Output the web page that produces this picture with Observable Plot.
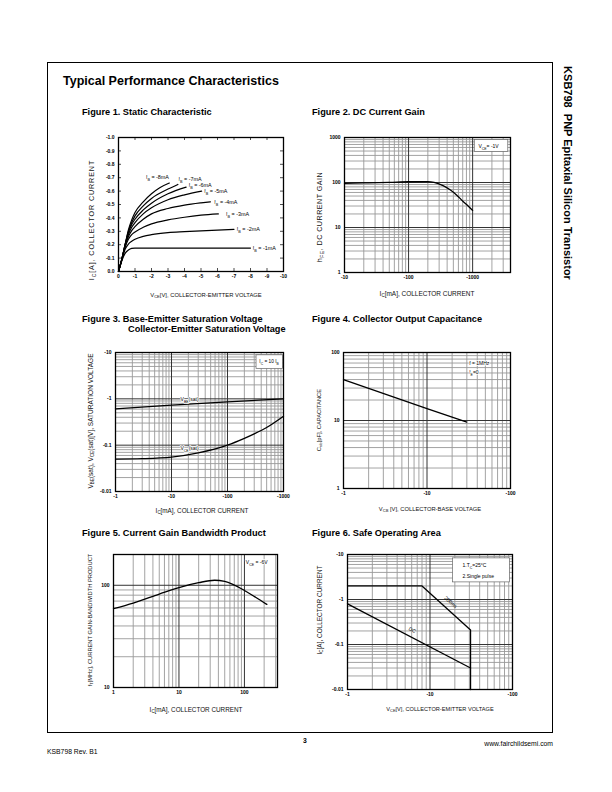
<!DOCTYPE html>
<html><head><meta charset="utf-8">
<script src="https://cdn.jsdelivr.net/npm/d3@7"></script>
<script src="https://cdn.jsdelivr.net/npm/@observablehq/plot@0.6"></script>
<style>
html,body{margin:0;padding:0;background:#fff;}
#page{position:relative;width:612px;height:792px;font-family:"Liberation Sans",Arial,Helvetica,sans-serif;color:#000;overflow:hidden;background:#fff;}
.abs{position:absolute;white-space:nowrap;line-height:1;}
.border{position:absolute;left:47px;top:62px;width:506px;height:671px;border:1.3px solid #000;box-sizing:border-box;}
.title{font-weight:bold;font-size:12.5px;}
.ftitle{font-weight:bold;font-size:9.2px;}
.side{font-weight:bold;font-size:11px;}
.axl{font-size:5.8px;color:#111;}
.foot{font-size:6.8px;}
sub{font-size:70%;vertical-align:-0.25em;line-height:0;}
</style></head><body><div id="page"><div class="border"></div></div>
<script>
// ===================== DATA (magnitudes; axis labels carry the minus sign) =====================
// Figure 1 – Static characteristic: |VCE| [V] vs |IC| [A]
const ib1Curve = [[0,0],[0.2,0.08],[0.4,0.135],[0.6,0.16],[0.8,0.172],[1,0.175],[2,0.175],[8,0.175]];
const ib2Curve = [[0,0],[0.2,0.085],[0.4,0.165],[0.6,0.205],[0.8,0.225],[1,0.24],[1.5,0.262],[2,0.275],[3,0.29],[4,0.297],[5,0.303],[6,0.309],[7,0.315]];
const ib3Curve = [[0,0],[0.2,0.09],[0.4,0.18],[0.6,0.24],[0.8,0.275],[1,0.295],[1.5,0.33],[2,0.355],[3,0.385],[4,0.405],[5,0.42],[6.05,0.43]];
const ib4Curve = [[0,0],[0.2,0.09],[0.4,0.19],[0.6,0.26],[0.8,0.305],[1,0.335],[1.5,0.39],[2,0.43],[3,0.47],[4,0.495],[5,0.512],[5.57,0.52]];
const ib5Curve = [[0,0],[0.2,0.09],[0.4,0.195],[0.6,0.275],[0.8,0.33],[1,0.365],[1.5,0.43],[2,0.475],[3,0.535],[4,0.572],[5.04,0.6]];
const ib6Curve = [[0,0],[0.2,0.09],[0.4,0.2],[0.6,0.29],[0.8,0.35],[1,0.39],[1.5,0.46],[2,0.51],[3,0.58],[4.1,0.63]];
const ib7Curve = [[0,0],[0.2,0.09],[0.4,0.2],[0.6,0.3],[0.8,0.365],[1,0.415],[1.5,0.49],[2,0.545],[3,0.615],[3.6,0.65]];
const ib8Curve = [[0,0],[0.2,0.09],[0.4,0.2],[0.6,0.31],[0.8,0.385],[1,0.44],[1.5,0.52],[2,0.58],[2.5,0.625],[3.08,0.66]];
const fig1Names = ["-1mA","-2mA","-3mA","-4mA","-5mA","-6mA","-7mA","-8mA"];
const fig1Curves = [ib1Curve, ib2Curve, ib3Curve, ib4Curve, ib5Curve, ib6Curve, ib7Curve, ib8Curve];
const fig1LabelAt = [[8.14,0.17],[7.17,0.315],[6.52,0.43],[5.81,0.52],[5.2,0.6],[4.25,0.64],[3.64,0.69],[1.66,0.705]];
const fig1XTicks = [0,1,2,3,4,5,6,7,8,9,10];
const fig1YTicks = [0,0.1,0.2,0.3,0.4,0.5,0.6,0.7,0.8,0.9,1.0];

// Figure 2 – DC current gain: |IC| [mA] vs hFE
const hfeCurve = [[10,96],[20,98],[50,101],[100,104],[200,105],[250,101],[345,85],[450,68],[560,53],[710,38],[850,30],[1000,24]];
const fig2XMajor = [10,100,1000];
const fig2YMajor = [1,10,100,1000];

// Figure 3 – Saturation voltages: |IC| [mA] vs |V| [V]
const vbeSatCurve = [[1,0.61],[10,0.73],[100,0.86],[1000,1.0]];
const vceSatCurve = [[1,0.05],[3,0.051],[10,0.055],[30,0.068],[100,0.1],[200,0.14],[300,0.175],[500,0.24],[1000,0.42]];
const fig3XMajor = [1,10,100,1000];
const fig3YMajor = [0.01,0.1,1,10];

// Figure 4 – Output capacitance: |VCB| [V] vs Cob [pF]
const cobCurve = [[1,40],[10,15],[30,9.5]];
const fig4XMajor = [1,10,100];
const fig4YMajor = [1,10,100];

// Figure 5 – fT: IC [mA] vs fT [MHz]
const ftCurve = [[1,59],[2,67],[5,82],[10,95],[20,106],[35,112],[50,109],[100,89],[150,76],[220,65]];
const fig5XMajor = [1,10,100];
const fig5YMajor = [10,100];

// Figure 6 – Safe operating area: |VCE| [V] vs |IC| [A]
const soa200msCurve = [[1,2],[8,2],[31,0.21],[31,0.01]];
const soaDcCurve = [[1,0.8],[31,0.03]];
const fig6XMajor = [1,10,100];
const fig6YMajor = [0.01,0.1,1,10];

// ===================== helpers =====================
const page = document.getElementById("page");
const minorGrid = (lo, hi) => {
  const out = [];
  for (let e = Math.floor(Math.log10(lo)); e <= Math.ceil(Math.log10(hi)); e++)
    for (let m = 2; m <= 9; m++) { const v = m * Math.pow(10, e); if (v > lo * 1.0001 && v < hi * 0.9999) out.push(+v.toPrecision(3)); }
  return out;
};
function place(html, x, y, cls, ax = "l", rot = 0, target = 0) {
  const d = document.createElement("div");
  d.className = "abs " + cls;
  d.innerHTML = html;
  d.style.left = x + "px"; d.style.top = y + "px";
  const tx = ax === "l" ? "0" : ax === "c" ? "-50%" : "-100%";
  d.style.transform = `translate(${tx},-50%)` + (rot ? ` rotate(${rot}deg)` : "");
  page.appendChild(d);
  if (target) {
    const base = parseFloat(getComputedStyle(d).fontSize);
    const nat = d.offsetWidth;
    const fs = Math.min(7.2, base * target / nat);
    d.style.fontSize = fs + "px";
    const nat2 = d.offsetWidth;
    const n = d.textContent.length;
    if (target > nat2 + 1) d.style.letterSpacing = ((target - nat2) / n).toFixed(3) + "px";
  }
}
function subify(svg) {
  svg.querySelectorAll("text").forEach(el => {
    const s = el.textContent;
    if (!s.includes("_{")) return;
    el.textContent = "";
    const parts = s.split(/(_\{[^}]*\})/);
    for (const p of parts) {
      if (!p) continue;
      const t = document.createElementNS("http://www.w3.org/2000/svg", "tspan");
      if (p.startsWith("_{")) { t.textContent = p.slice(2, -1); t.setAttribute("font-size", "70%"); t.setAttribute("baseline-shift", "sub"); }
      else t.textContent = p;
      el.appendChild(t);
    }
  });
}
const TICK_STYLE = {fontFamily: "'Liberation Sans', Arial, sans-serif", fontSize: "5px", fontWeight: "bold", color: "#000", background: "transparent", overflow: "visible"};
function chart({rect, x, y, marks}) {
  const [x0, y0, x1, y1] = rect;
  const M = {l: 28, r: 10, t: 6, b: 14};
  const svg = Plot.plot({
    width: x1 - x0 + M.l + M.r, height: y1 - y0 + M.t + M.b,
    marginLeft: M.l, marginRight: M.r, marginTop: M.t, marginBottom: M.b,
    x: {...x, label: null, tickSize: 0, tickPadding: 3},
    y: {...y, label: null, tickSize: 0, tickPadding: 4},
    style: TICK_STYLE,
    marks: [...marks, Plot.frame({stroke: "#000", strokeWidth: 1.3})]
  });
  subify(svg);
  svg.style.position = "absolute";
  svg.style.left = (x0 - M.l) + "px";
  svg.style.top = (y0 - M.t) + "px";
  page.appendChild(svg);
}
function logGrid(xMajor, xDomain, yMajor, yDomain) {
  return [
    Plot.ruleX(minorGrid(xDomain[0], xDomain[1]), {stroke: "#999", strokeWidth: 0.9}),
    Plot.ruleY(minorGrid(yDomain[0], yDomain[1]), {stroke: "#999", strokeWidth: 0.9}),
    Plot.ruleX(xMajor, {stroke: "#333", strokeWidth: 1}),
    Plot.ruleY(yMajor, {stroke: "#333", strokeWidth: 1})
  ];
}
const neg = d => "-" + d;
const T = {fontSize: 5, fontWeight: "normal", fill: "#000"};
const line = (data, extra = {}) => Plot.line(data, {x: d => d[0], y: d => d[1], stroke: "#000", strokeWidth: 1.3, curve: "monotone-x", ...extra});

// ===================== page text =====================
place("Typical Performance Characteristics", 63, 81, "title");
place("KSB798&nbsp; PNP Epitaxial Silicon Transistor", 567, 173, "side", "c", 90);
place("Figure 1. Static Characteristic", 82, 113, "ftitle");
place("Figure 2. DC Current Gain", 312, 113, "ftitle");
place("Figure 3. Base-Emitter Saturation Voltage", 82, 319.5, "ftitle");
place("Collector-Emitter Saturation Voltage", 128, 329.5, "ftitle");
place("Figure 4. Collector Output Capacitance", 312, 320, "ftitle");
place("Figure 5. Current Gain Bandwidth Product", 82, 534, "ftitle");
place("Figure 6. Safe Operating Area", 312, 534, "ftitle");
place("V<sub>CE</sub>[V], COLLECTOR-EMITTER VOLTAGE", 206, 296, "axl", "c", 0, 112);
place("I<sub>C</sub>[A], COLLECTOR CURRENT", 92, 220, "axl", "c", -90, 120);
place("I<sub>C</sub>[mA], COLLECTOR CURRENT", 427, 294, "axl", "c", 0, 95);
place("h<sub>FE</sub>, DC CURRENT GAIN", 320, 217, "axl", "c", -90, 90);
place("I<sub>C</sub>[mA], COLLECTOR CURRENT", 202, 511, "axl", "c", 0, 93);
place("V<sub>BE</sub>(sat), V<sub>CE</sub>(sat)[V], SATURATION VOLTAGE", 91, 421, "axl", "c", -90, 135);
place("V<sub>CB</sub> [V], COLLECTOR-BASE VOLTAGE", 430, 510, "axl", "c");
place("C<sub>ob</sub>[pF], CAPACITANCE", 320, 420, "axl", "c", -90, 62);
place("I<sub>C</sub>[mA], COLLECTOR CURRENT", 196, 710, "axl", "c", 0, 93);
place("f<sub>T</sub>[MHz], CURRENT GAIN-BANDWIDTH PRODUCT", 91, 620, "axl", "c", -90, 133);
place("V<sub>CE</sub>[V], COLLECTOR-EMITTER VOLTAGE", 440, 710, "axl", "c", 0, 108);
place("I<sub>C</sub>[A], COLLECTOR CURRENT", 320, 610, "axl", "c", -90, 89);
place("<b>3</b>", 305, 741, "foot", "c");
place("www.fairchildsemi.com", 553, 744, "foot", "r");
place("KSB798 Rev. B1", 47, 752, "foot");

// ===================== Figure 1 =====================
{
  const rect = [118, 137, 283, 271];
  const w = rect[2] - rect[0], h = rect[3] - rect[1];
  const rows = fig1Curves.flatMap((c, k) => c.map(([v, i]) => ({v, i, s: fig1Names[k]})));
  const labels = fig1Names.map((n, k) => ({v: fig1LabelAt[k][0], i: fig1LabelAt[k][1], t: "I_{B} = " + n}));
  chart({
    rect,
    x: {type: "linear", domain: [0, 10], ticks: fig1XTicks, tickFormat: d => d === 0 ? "0" : "-" + d},
    y: {type: "linear", domain: [0, 1], ticks: fig1YTicks, tickFormat: d => d === 0 ? "0.0" : "-" + d.toFixed(1)},
    marks: [
      Plot.tickX(fig1XTicks, {x: d => d, insetTop: h - 3, stroke: "#000", strokeWidth: 0.7}),
      Plot.tickX(fig1XTicks, {x: d => d, insetBottom: h - 3, stroke: "#000", strokeWidth: 0.7}),
      Plot.tickY(fig1YTicks, {y: d => d, insetRight: w - 3, stroke: "#000", strokeWidth: 0.7}),
      Plot.tickY(fig1YTicks, {y: d => d, insetLeft: w - 3, stroke: "#000", strokeWidth: 0.7}),
      Plot.line(rows, {x: "v", y: "i", z: "s", stroke: "#000", strokeWidth: 1.2, curve: "monotone-x"}),
      Plot.text(labels, {x: "v", y: "i", text: "t", textAnchor: "start", stroke: "#fff", strokeWidth: 1.5, ...T, fontSize: 5.4})
    ]
  });
}

// ===================== Figure 2 =====================
{
  const xd = [10, 3900], yd = [1, 1000];
  chart({
    rect: [344, 137, 510, 272],
    x: {type: "log", domain: xd, ticks: fig2XMajor, tickFormat: neg},
    y: {type: "log", domain: yd, ticks: fig2YMajor, tickFormat: d => String(d)},
    marks: [
      ...logGrid(fig2XMajor, xd, fig2YMajor, yd),
      Plot.rect([{x1: 1080, x2: 3600, y1: 480, y2: 880}], {x1: "x1", x2: "x2", y1: "y1", y2: "y2", fill: "#fff", stroke: "#666", strokeWidth: 0.7}),
      Plot.text(["V_{CE}= -1V"], {x: 1230, y: 640, text: d => d, textAnchor: "start", ...T}),
      line(hfeCurve)
    ]
  });
}

// ===================== Figure 3 =====================
{
  const xd = [1, 1000], yd = [0.01, 10];
  chart({
    rect: [115, 352, 283, 491],
    x: {type: "log", domain: xd, ticks: fig3XMajor, tickFormat: neg},
    y: {type: "log", domain: yd, ticks: fig3YMajor, tickFormat: neg},
    marks: [
      ...logGrid(fig3XMajor, xd, fig3YMajor, yd),
      Plot.rect([{x1: 330, x2: 985, y1: 4.4, y2: 8.7}], {x1: "x1", x2: "x2", y1: "y1", y2: "y2", fill: "#fff", stroke: "#666", strokeWidth: 0.7}),
      Plot.text(["I_{C} = 10 I_{B}"], {x: 370, y: 6.3, text: d => d, textAnchor: "start", ...T, fontSize: 4.8}),
      line(vbeSatCurve),
      line(vceSatCurve),
      Plot.text(["V_{BE}(sat)", "V_{CE}(sat)"], {x: [21, 21], y: [0.96, 0.085], text: d => d, ...T, stroke: "#fff", strokeWidth: 1.5})
    ]
  });
}

// ===================== Figure 4 =====================
{
  const xd = [1, 100], yd = [1, 100];
  chart({
    rect: [343, 352, 510, 488],
    x: {type: "log", domain: xd, ticks: fig4XMajor, tickFormat: neg},
    y: {type: "log", domain: yd, ticks: fig4YMajor, tickFormat: d => String(d)},
    marks: [
      ...logGrid(fig4XMajor, xd, fig4YMajor, yd),
      line(cobCurve),
      Plot.text(["f = 1MHz", "I_{E}=0"], {x: [32, 32], y: [69, 51], text: d => d, textAnchor: "start", ...T, stroke: "#fff", strokeWidth: 1.5})
    ]
  });
}

// ===================== Figure 5 =====================
{
  const xd = [1, 320], yd = [10, 200];
  chart({
    rect: [113, 554, 277, 687],
    x: {type: "log", domain: xd, ticks: fig5XMajor, tickFormat: d => String(d)},
    y: {type: "log", domain: yd, ticks: fig5YMajor, tickFormat: d => String(d)},
    marks: [
      ...logGrid(fig5XMajor, xd, fig5YMajor, yd),
      line(ftCurve),
      Plot.text(["V_{CE} = -6V"], {x: 105, y: 166, text: d => d, textAnchor: "start", ...T, stroke: "#fff", strokeWidth: 1.5})
    ]
  });
}

// ===================== Figure 6 =====================
{
  const xd = [1, 100], yd = [0.01, 10];
  chart({
    rect: [347, 554, 512, 689],
    x: {type: "log", domain: xd, ticks: fig6XMajor, tickFormat: neg},
    y: {type: "log", domain: yd, ticks: fig6YMajor, tickFormat: neg},
    marks: [
      ...logGrid(fig6XMajor, xd, fig6YMajor, yd),
      Plot.rect([{x1: 19, x2: 93, y1: 2.4, y2: 8.2}], {x1: "x1", x2: "x2", y1: "y1", y2: "y2", fill: "#fff", stroke: "#666", strokeWidth: 0.7}),
      Plot.text(["1.T_{C}=25°C", "2.Single pulse"], {x: [24.8, 24.8], y: [5.7, 3.24], text: d => d, textAnchor: "start", ...T}),
      line(soa200msCurve, {curve: "linear"}),
      line(soaDcCurve, {curve: "linear"}),
      Plot.text(["200ms"], {x: 17.8, y: 0.87, text: d => d, rotate: 42, ...T}),
      Plot.text(["DC"], {x: 6.1, y: 0.21, text: d => d, rotate: 28, ...T})
    ]
  });
}
</script></body></html>
